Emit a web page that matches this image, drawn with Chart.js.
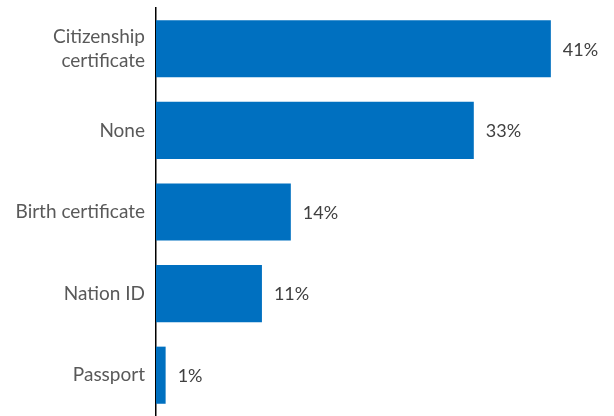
<!DOCTYPE html>
<html>
<head>
<meta charset="utf-8">
<script src="https://cdn.jsdelivr.net/npm/chart.js@4"></script>
<style>
  html, body { margin: 0; padding: 0; background: #fff; }
  #wrap { width: 614px; height: 416px; }
</style>
</head>
<body>
<div id="wrap"><canvas id="docChart"></canvas></div>
<script>
const categories = [["Citizenship", "certificate"], "None", "Birth certificate", "Nation ID", "Passport"];
const shares = [41, 33, 14, 11, 1];

// draws the "41%" style labels at the end of each bar
const barLabels = {
  id: "barLabels",
  afterDatasetsDraw(chart) {
    const ctx = chart.ctx;
    const meta = chart.getDatasetMeta(0);
    ctx.save();
    ctx.font = "18px Lato";
    ctx.fillStyle = "#404040";
    ctx.textBaseline = "middle";
    ctx.textAlign = "left";
    meta.data.forEach((bar, i) => {
      ctx.fillText(shares[i] + "%", bar.x + 12, bar.y + 1);
    });
    ctx.restore();
  }
};

new Chart(document.getElementById("docChart"), {
  type: "bar",
  data: {
    labels: categories,
    datasets: [
      {
        data: shares,
        backgroundColor: "#0070C0",
        barPercentage: 0.7,
        categoryPercentage: 1,
      },
    ],
  },
  options: {
    indexAxis: "y",
    responsive: true,
    maintainAspectRatio: false,
    animation: false,
    layout: { padding: { top: 8, right: 15, bottom: -2, left: 0 } },
    plugins: {
      legend: { display: false },
      tooltip: { enabled: false },
    },
    scales: {
      x: { display: false, min: 0, max: 46 },
      y: {
        grid: { display: false },
        border: { display: true, color: "#000", width: 1.5 },
        ticks: {
          color: "#595959",
          font: { family: "Lato", size: 19, lineHeight: 1.3 },
          padding: 3,
        },
        afterFit(scale) {
          scale.width = 156;
          scale.paddingTop = 0;
          scale.paddingBottom = 0;
        },
      },
    },
  },
  plugins: [barLabels],
});
</script>
</body>
</html>
